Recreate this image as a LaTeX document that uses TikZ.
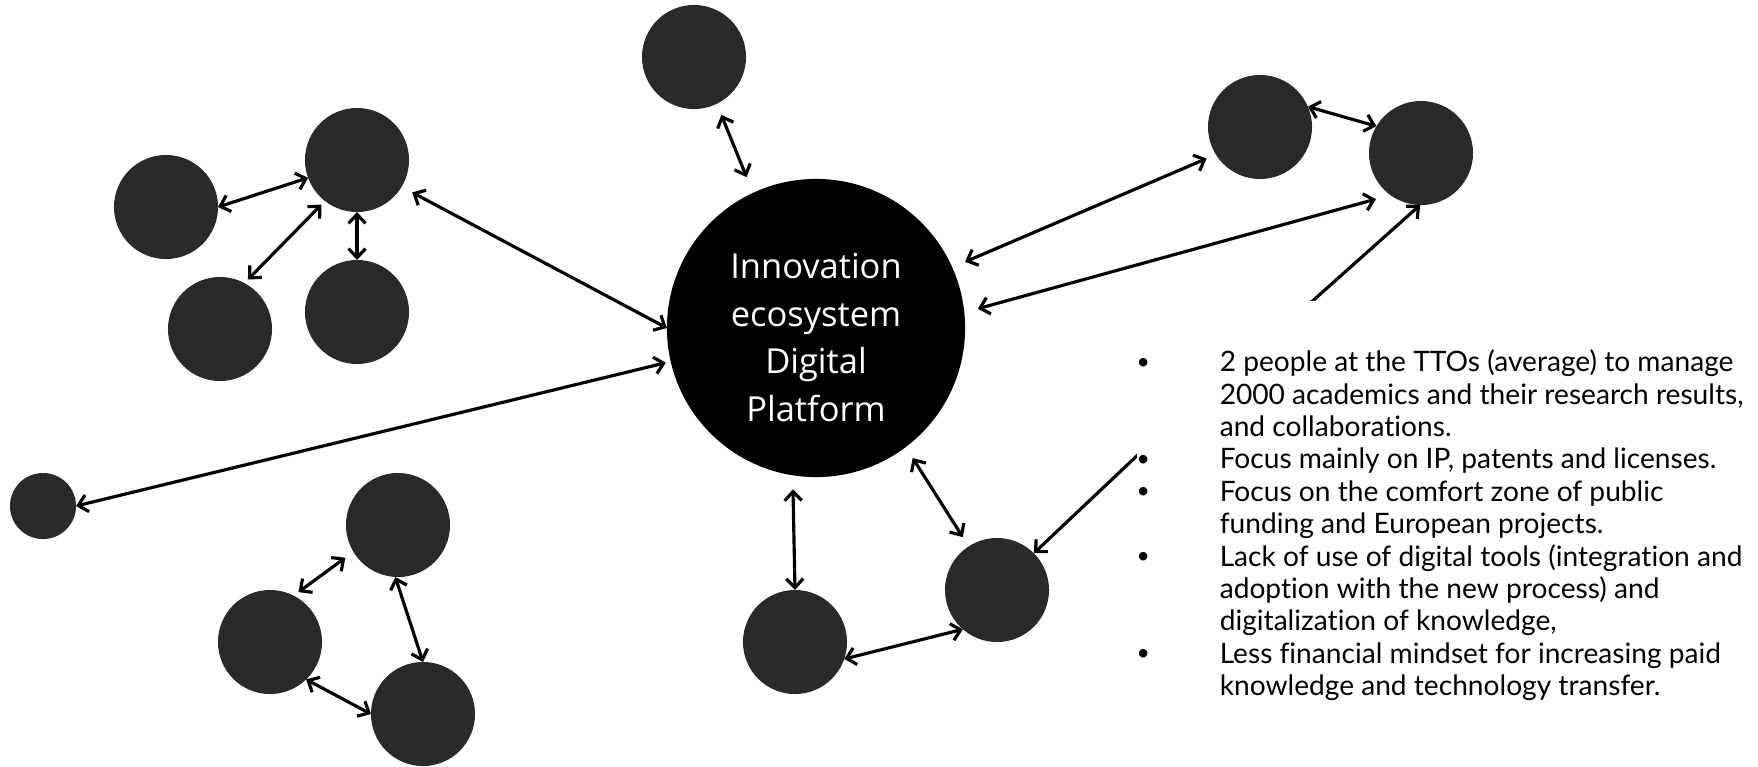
\documentclass[tikz,border=0pt]{standalone}
\usepackage{fontspec}
\usepackage{tikz}
\usetikzlibrary{arrows.meta, calc, positioning}
\tikzset{>={Straight Barb[length=0.9mm,width=1.7mm]}}
\definecolor{blobgray}{HTML}{2A2A2A}
\newfontfamily\hubfont{Open Sans}
\newfontfamily\notefont{Lato}[Ligatures=NoCommon]
\newcommand{\dotmark}{{\fontsize{6.5pt}{6.5pt}\selectfont\raisebox{0.2ex}{\textbullet}}}

\begin{document}
\begin{tikzpicture}[x=0.01cm, y=-0.01cm,
		blob/.style={circle, fill=blobgray, inner sep=0pt, outer sep=0pt, minimum size=1.04cm},
		link/.style={<->, line width=0.9pt},
		feed/.style={->, line width=0.9pt},
		notes/.style={fill=white, inner xsep=0pt, inner ysep=0.485cm, font=\notefont\fontsize{8pt}{9.2pt}\selectfont}]
	\useasboundingbox (0,0) rectangle (1758,766);
	% the platform in the middle
	\node[circle, fill=black, inner sep=0pt, outer sep=0pt, minimum size=2.98cm] (hub) at (816,328) {};
	\node[text=white, align=center, font=\hubfont\fontsize{9.8pt}{13.6pt}\selectfont] (hubtext) at ([yshift=-0.095cm]hub.center) {Innovation\\ecosystem\\Digital\\Platform};
	% actors around it
	\node[blob] (top) at (694,57) {};
	\node[blob] (la) at (166,207) {};
	\node[blob] (lb) at (357,160) {};
	\node[blob] (lc) at (220,329) {};
	\node[blob] (ld) at (357,312) {};
	\node[blob] (ra) at (1260,127) {};
	\node[blob] (rb) at (1421,153) {};
	\node[blob, minimum size=0.66cm] (small) at (43,506) {};
	\node[blob] (ta) at (398,525) {};
	\node[blob] (tb) at (270,642) {};
	\node[blob] (tc) at (423,714) {};
	\node[blob] (ba) at (795,642) {};
	\node[blob] (bb) at (997,590) {};
	\coordinate (fsrc) at (1280,330);
	\coordinate (lsrc) at (1160,434);
	% links
	\draw[link] (la.0) -- (lb.200);
	\draw[link, shorten <=0.5mm, shorten >=0.5mm] (lc.62) -- (lb.232);
	\draw[link] (ld.90) -- (lb.270);
	\draw[link, shorten <=1.2mm] (lb.-31) -- (hub.180);
	\draw[link, shorten >=0.5mm] (small.0) -- (hub.193);
	\draw[link, shorten <=1.2mm, shorten >=1.7mm] (top.-64) -- (hub.115);
	\draw[link, shorten <=1.4mm, shorten >=1mm] (hub.24) -- (ra.212);
	\draw[link, shorten <=1.4mm, shorten >=1.5mm] (hub.6) -- (rb.234);
	\draw[link] (ra.23) -- (rb.149);
	\draw[feed] (fsrc) -- (rb.269);
	\draw[link, shorten <=1.4mm] (hub.261) -- (ba.90);
	\draw[link, shorten <=1.3mm, shorten >=1.1mm] (hub.-53) -- (bb.123);
	\draw[link] (ba.-19) -- (bb.229);
	\draw[feed] (lsrc) -- (bb.45);
	\draw[link, shorten <=0.6mm, shorten >=1mm] (tb.63) -- (ta.211);
	\draw[link] (ta.267) -- (tc.90);
	\draw[link] (tb.-46) -- (tc.180);
	% bullet list
	\node[notes, anchor=north west] (list) at (1136,300) {%
		\begin{tabular}{@{}p{8.3mm}@{}l@{}}
			\dotmark & 2 people at the TTOs (average) to manage\\
			& 2000 academics and their research results,\\
			& and collaborations.\\
			\dotmark & Focus mainly on IP, patents and licenses.\\
			\dotmark & Focus on the comfort zone of public\\
			& funding and European projects.\\
			\dotmark & Lack of use of digital tools (integration and\\
			& adoption with the new process) and\\
			& digitalization of knowledge,\\
			\dotmark & Less financial mindset for increasing paid\\
			& knowledge and technology transfer.
		\end{tabular}};
\end{tikzpicture}
\end{document}
